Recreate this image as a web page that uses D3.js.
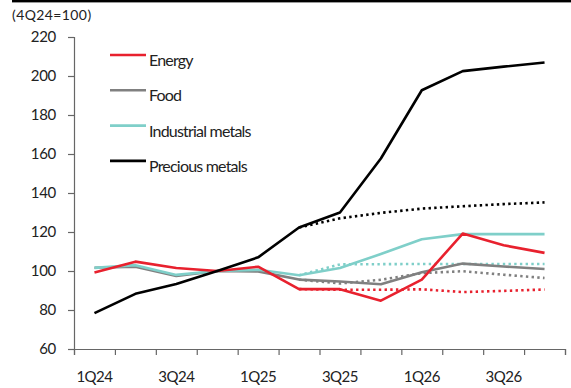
<!DOCTYPE html>
<html>
<head>
<meta charset="utf-8">
<script src="https://cdn.jsdelivr.net/npm/d3@7"></script>
<style>
  html, body { margin: 0; padding: 0; background: #fff; }
  svg { display: block; font-family: Lato, "Noto Sans", sans-serif; }
</style>
</head>
<body>
<svg id="chart" width="571" height="388"></svg>
<script>
// Commodity price indices, quarterly, rebased so that 4Q24 = 100.
const quarters = ["1Q24","2Q24","3Q24","4Q24","1Q25","2Q25","3Q25","4Q25","1Q26","2Q26","3Q26","4Q26"];
const tickLabels = ["1Q24","3Q24","1Q25","3Q25","1Q26","3Q26"];
const yTicks = [60, 80, 100, 120, 140, 160, 180, 200, 220];

// Solid lines: history and current forecast
const energy     = [99.2, 104.8, 101.5, 100, 102.2, 90.7, 90.7, 84.8, 95.6, 119.2, 113.2, 109.3];
const food       = [101.7, 102.2, 97.5, 100, 99.8, 95.6, 94.6, 93.2, 99.4, 103.8, 102.3, 101.0];
const industrial = [101.6, 103.0, 98.0, 100, 100.6, 97.8, 101.5, 108.7, 116.3, 118.9, 118.9, 118.9];
const precious   = [78.4, 88.3, 93.3, 100, 107.0, 122.3, 130.0, 157.7, 192.7, 202.5, 204.8, 206.9];

// Dotted lines: previous forecast path from 2Q25 onward (null = not drawn)
const energyPrev     = [null, null, null, null, null, 90.7, 90.4, 90.4, 90.6, 89.2, 89.8, 90.5];
const foodPrev       = [null, null, null, null, null, 95.6, 93.6, 95.5, 98.9, 99.9, 98.1, 96.4];
const industrialPrev = [null, null, null, null, null, 97.8, 103.4, 103.5, 103.6, 103.6, 103.6, 103.6];
const preciousPrev   = [null, null, null, null, null, 122.3, 127.0, 129.8, 132.0, 133.2, 134.3, 135.2];

const seriesNames  = ["Energy", "Food", "Industrial metals", "Precious metals"];
const seriesColors = ["#e8212e", "#808080", "#7fcfc9", "#000000"];
const solidData = [energy, food, industrial, precious];
const prevData  = [energyPrev, foodPrev, industrialPrev, preciousPrev];

const svg = d3.select("#chart");
const margin = { left: 74, right: 6, top: 37, bottom: 39 };
const W = 571, H = 388;

const x = d3.scaleBand().domain(quarters).range([margin.left, W - margin.right]);
const xEdge = d3.scaleLinear().domain([0, quarters.length]).range([margin.left, W - margin.right]);
const y = d3.scaleLinear().domain([60, 220]).range([H - margin.bottom, margin.top]);

// Top rule
svg.append("rect").attr("x", 12).attr("y", 0).attr("width", W - 12).attr("height", 2.4).attr("fill", "#000");

// Unit label
svg.append("text").attr("x", 12).attr("y", 20)
  .attr("font-size", 14).attr("fill", "#222").attr("letter-spacing", "0.4px")
  .text("(4Q24=100)");

// Y axis
const yAxis = svg.append("g")
  .attr("transform", `translate(${margin.left},0)`)
  .call(d3.axisLeft(y).tickValues(yTicks).tickSize(6).tickPadding(12).tickFormat(d3.format("d")));
yAxis.selectAll("text").attr("font-size", 15).attr("fill", "#222").attr("font-family", "Lato").attr("letter-spacing", "-0.3px");

// X axis: tick marks on quarter boundaries
const xAxisTicks = svg.append("g")
  .attr("transform", `translate(0,${H - margin.bottom})`)
  .call(d3.axisBottom(xEdge).tickValues(d3.range(quarters.length + 1)).tickSize(6).tickFormat(""));

// X axis labels centred on quarters
const xAxisLabels = svg.append("g")
  .attr("transform", `translate(0,${H - margin.bottom})`)
  .call(d3.axisBottom(x).tickValues(tickLabels).tickSize(0).tickPadding(22));
xAxisLabels.select(".domain").remove();
xAxisLabels.selectAll("text").attr("font-size", 15).attr("fill", "#222").attr("font-family", "Lato").attr("letter-spacing", "-0.5px");

[yAxis, xAxisTicks].forEach(g => {
  g.selectAll(".domain, line").attr("stroke", "#666").attr("stroke-width", 1.2);
});

const line = d3.line()
  .defined(d => d != null)
  .x((d, i) => x(quarters[i]) + x.bandwidth() / 2)
  .y(d => y(d));

// Previous forecasts (dotted)
const dotG = svg.append("g");
prevData.forEach((vals, k) => {
  dotG.append("path")
    .datum(vals)
    .attr("d", line)
    .attr("fill", "none")
    .attr("stroke", seriesColors[k])
    .attr("stroke-width", 2.6)
    .attr("stroke-dasharray", "2.4,3.3");
});

// Current series (solid)
const drawOrder = [1, 2, 0, 3];
const solidG = svg.append("g");
drawOrder.forEach(k => {
  solidG.append("path")
    .datum(solidData[k])
    .attr("d", line)
    .attr("fill", "none")
    .attr("stroke", seriesColors[k])
    .attr("stroke-width", 2.6)
    .attr("stroke-linejoin", "round");
});

// Legend
const legend = svg.append("g").attr("transform", "translate(110,55)");
seriesNames.forEach((name, k) => {
  const row = legend.append("g").attr("transform", `translate(0,${k * 35.3})`);
  row.append("line").attr("x1", 0).attr("x2", 36).attr("y1", 0).attr("y2", 0)
    .attr("stroke", seriesColors[k]).attr("stroke-width", 2.6);
  row.append("text").attr("x", 39).attr("y", 11)
    .attr("font-size", 16).attr("fill", "#222").attr("letter-spacing", "-0.8px")
    .text(name);
});
</script>
</body>
</html>
